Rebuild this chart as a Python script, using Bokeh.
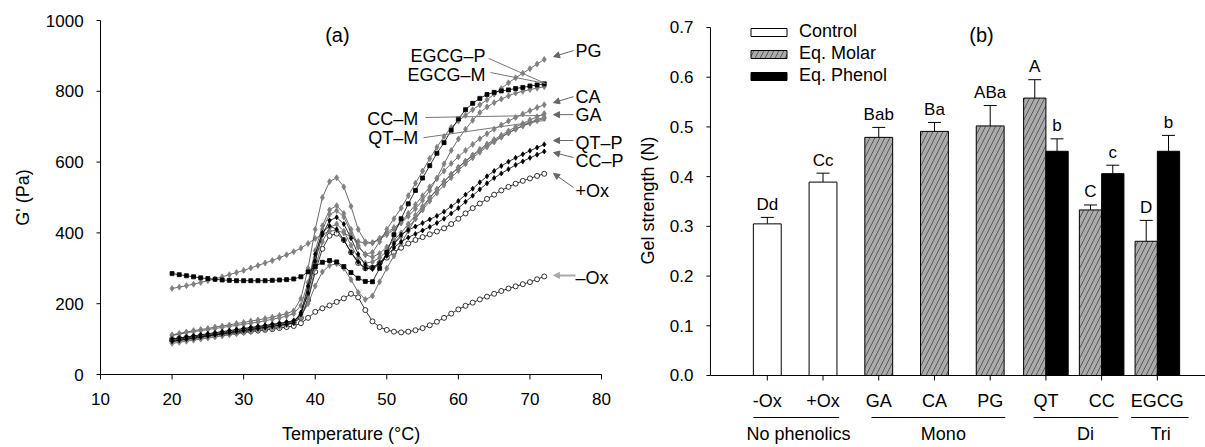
import math
from bokeh.plotting import figure
from bokeh.layouts import row
from bokeh.models import (Range1d, Label, Arrow, NormalHead, Whisker, TeeHead,
                          ColumnDataSource, Legend, LegendItem)
from bokeh.core.properties import value
from bokeh.embed import file_html
from bokeh.resources import INLINE

FONT = "Liberation Sans"

# ---------------- Panel (a) data: G' (Pa) vs temperature ----------------
temperature = list(range(20, 73))
minus_ox = [100, 102, 104, 106, 108, 110, 112, 114, 116, 118,
            120, 122, 124, 126, 128, 131, 134, 137, 145, 160,
            177, 187, 195, 205, 215, 228, 218, 182, 150, 134,
            126, 121, 119, 121, 125, 131, 139, 149, 160, 172,
            184, 194, 203, 212, 220, 228, 236, 243, 249, 255,
            261, 269, 277]
plus_ox = [96, 99, 102, 105, 108, 111, 114, 117, 120, 123,
           126, 129, 132, 135, 138, 141, 144, 147, 160, 210,
           290, 355, 392, 398, 380, 345, 315, 300, 302, 315,
           330, 345, 358, 370, 380, 388, 396, 404, 413, 425,
           440, 455, 470, 483, 496, 508, 520, 530, 539, 547,
           554, 561, 567]
ga = [110, 114, 118, 121, 124, 127, 130, 133, 136, 139,
      142, 145, 148, 152, 156, 160, 165, 172, 195, 260,
      350, 420, 465, 477, 455, 410, 365, 338, 332, 342,
      360, 380, 400, 425, 450, 475, 500, 523, 545, 565,
      585, 603, 620, 636, 651, 664, 676, 688, 699, 709,
      719, 728, 737]
ca = [112, 116, 120, 124, 127, 130, 134, 137, 140, 144,
      147, 151, 154, 158, 162, 167, 172, 180, 215, 300,
      410, 500, 545, 556, 530, 475, 410, 375, 372, 385,
      400, 415, 430, 455, 480, 505, 530, 553, 575, 596,
      615, 633, 650, 666, 680, 693, 705, 716, 726, 736,
      745, 754, 762]
pg = [92, 95, 98, 101, 104, 107, 110, 113, 116, 119,
      122, 125, 128, 131, 135, 139, 144, 150, 170, 240,
      330, 410, 452, 463, 445, 400, 360, 340, 345, 375,
      410, 440, 470, 505, 540, 575, 610, 642, 672, 698,
      716, 732, 748, 762, 776, 792, 808, 824, 838, 851,
      864, 877, 890]
qt_m = [98, 101, 104, 107, 110, 113, 116, 119, 122, 125,
        128, 131, 134, 137, 140, 143, 147, 152, 165, 200,
        250, 290, 308, 313, 300, 268, 232, 212, 222, 262,
        300, 335, 370, 405, 440, 470, 498, 522, 545, 566,
        585, 602, 618, 633, 647, 660, 672, 683, 693, 702,
        710, 717, 723]
cc_m = [88, 91, 94, 97, 100, 103, 106, 109, 112, 115,
        118, 121, 124, 127, 131, 135, 140, 146, 162, 215,
        300, 375, 415, 425, 405, 365, 330, 315, 318, 330,
        348, 368, 390, 415, 440, 465, 490, 513, 535, 556,
        576, 595, 612, 628, 643, 657, 670, 682, 693, 703,
        712, 720, 727]
qt_p = [100, 103, 106, 109, 112, 115, 118, 121, 124, 127,
        130, 133, 136, 139, 142, 145, 148, 152, 170, 230,
        320, 395, 435, 444, 425, 385, 340, 310, 302, 315,
        340, 370, 395, 408, 418, 428, 438, 448, 460, 475,
        490, 508, 525, 543, 560, 575, 589, 601, 612, 622,
        632, 641, 650]
cc_p = [94, 97, 100, 103, 106, 109, 112, 115, 118, 121,
        124, 127, 130, 133, 136, 139, 142, 146, 175, 250,
        340, 400, 420, 410, 380, 345, 318, 300, 298, 312,
        335, 358, 375, 387, 397, 407, 417, 428, 440, 455,
        470, 488, 505, 523, 540, 555, 568, 580, 592, 602,
        612, 621, 630]
egcg_m = [243, 247, 251, 255, 260, 265, 270, 276, 282, 288,
          294, 301, 308, 315, 322, 330, 338, 347, 357, 370,
          384, 396, 405, 407, 400, 388, 376, 370, 372, 382,
          395, 410, 428, 447, 468, 492, 520, 555, 595, 633,
          665, 693, 718, 740, 756, 768, 778, 787, 795, 800,
          805, 809, 813]
egcg_p = [285, 282, 279, 276, 273, 271, 269, 267, 266, 265,
          265, 265, 265, 265, 266, 267, 268, 270, 276, 290,
          305, 317, 322, 318, 305, 288, 272, 263, 262, 300,
          345, 395, 440, 482, 520, 555, 590, 625, 655, 690,
          722, 748, 766, 780, 791, 797, 801, 804, 808, 811,
          815, 818, 821]
x_ticks_a = [10, 20, 30, 40, 50, 60, 70, 80]
y_ticks_a = [0, 200, 400, 600, 800, 1000]

# ---------------- Panel (b) data: gel strength (N) ----------------
categories = ["-Ox", "+Ox", "GA", "CA", "PG", "QT", "CC", "EGCG"]
control_cats = ["-Ox", "+Ox"]
control_vals = [0.305, 0.389]
control_err = [0.013, 0.018]
control_letters = ["Dd", "Cc"]
molar_cats = ["GA", "CA", "PG", "QT", "CC", "EGCG"]
molar_vals = [0.479, 0.491, 0.502, 0.558, 0.333, 0.270]
molar_err = [0.020, 0.018, 0.041, 0.037, 0.010, 0.042]
molar_letters = ["Bab", "Ba", "ABa", "A", "C", "D"]
phenol_cats = ["QT", "CC", "EGCG"]
phenol_vals = [0.451, 0.406, 0.451]
phenol_err = [0.025, 0.017, 0.032]
phenol_letters = ["b", "c", "b"]
groups = ["No phenolics", "Mono", "Di", "Tri"]
y_ticks_b = [0.0, 0.1, 0.2, 0.3, 0.4, 0.5, 0.6, 0.7]

# ---------------- layout constants ----------------
# panel (a): 7.157 px per degree, 0.354 px per Pa; axis origin (10, 0)
A_X0, A_Y0 = 10, 0
A_YTICK_LEN = 0.56        # degrees
A_YLABEL_X = 7.65
A_XTICK_LEN = 14          # Pa
A_XLABEL_Y = -70.6
A_XTITLE_Y = -168.1
A_YTITLE_X = -0.76
# panel (b): 55.72 px per category, 497.14 px per N
B_X0 = -0.02
B_YTICK_LEN = 0.072
B_YLABEL_X = -0.3245
B_YTITLE_X = -1.132
B_XTICK_LEN = 0.0100
B_XLABEL_Y = -0.0513
B_GROUP_LINE_Y = -0.0845
B_GROUP_TEXT_Y = -0.1177
group_spans = [(0.75, 2.29), (2.87, 5.27), (5.78, 7.30), (7.53, 8.56)]
group_centers = [1.56, 4.16, 6.71, 8.06]

GRAY = "#808080"
TXT = dict(text_font=value(FONT), text_color="black")


def bare_figure(width, xr, yr):
    p = figure(width=width, height=447, x_range=Range1d(*xr), y_range=Range1d(*yr),
               output_backend="svg", toolbar_location=None,
               x_axis_location=None, y_axis_location=None)
    p.min_border_left = p.min_border_right = p.min_border_top = p.min_border_bottom = 0
    p.outline_line_color = None
    p.grid.visible = False
    return p


# ================= Panel (a) =================
p1 = bare_figure(630, (-3.972, 84.05), (-206.2, 1056.5))

# axes
p1.segment(x0=[A_X0], y0=[y_ticks_a[0]], x1=[A_X0], y1=[y_ticks_a[-1]], line_color="black", line_width=1)
p1.segment(x0=[A_X0] * len(y_ticks_a), y0=y_ticks_a, x1=[A_X0 - A_YTICK_LEN] * len(y_ticks_a),
           y1=y_ticks_a, line_color="black", line_width=1)
p1.text(x=[A_YLABEL_X] * len(y_ticks_a), y=y_ticks_a, text=[str(t) for t in y_ticks_a],
        text_align="right", text_baseline="middle", text_font_size="17px", **TXT)
p1.segment(x0=[x_ticks_a[0]], y0=[A_Y0], x1=[x_ticks_a[-1]], y1=[A_Y0], line_color="black", line_width=1)
p1.segment(x0=x_ticks_a, y0=[A_Y0] * len(x_ticks_a), x1=x_ticks_a,
           y1=[A_Y0 - A_XTICK_LEN] * len(x_ticks_a), line_color="black", line_width=1)
p1.text(x=x_ticks_a, y=[A_XLABEL_Y] * len(x_ticks_a), text=[str(t) for t in x_ticks_a],
        text_align="center", text_baseline="middle", text_font_size="17px", **TXT)
p1.add_layout(Label(x=45, y=A_XTITLE_Y, text="Temperature (°C)", text_font=FONT,
                    text_font_size="18px", text_align="center", text_baseline="middle",
                    text_color="black"))
p1.add_layout(Label(x=A_YTITLE_X, y=500, text="G' (Pa)", text_font=FONT, angle=math.pi / 2,
                    text_font_size="18px", text_align="center", text_baseline="middle",
                    text_color="black"))

series = [
    (minus_ox, "circle", "white", "black", "black", 5),
    (plus_ox, "circle", "white", "black", "black", 5),
    (egcg_m, "diamond", GRAY, GRAY, "#444444", 6),
    (qt_m, "diamond", GRAY, GRAY, "#444444", 6),
    (cc_m, "diamond", GRAY, GRAY, "#444444", 6),
    (ga, "diamond", GRAY, GRAY, "#444444", 6),
    (ca, "diamond", GRAY, GRAY, "#444444", 6),
    (pg, "diamond", GRAY, GRAY, "#444444", 6),
    (qt_p, "diamond", "black", "black", "black", 5),
    (cc_p, "diamond", "black", "black", "black", 5),
    (egcg_p, "square", "black", "black", "black", 4),
]
for ys, mk, fc, mlc, lc, sz in series:
    p1.line(temperature, ys, line_color=lc, line_width=0.8)
    p1.scatter(temperature, ys, marker=mk, size=sz, fill_color=fc, line_color=mlc, line_width=0.8)

ARROW_C = "#666666"
right_labels = [("PG", 915), ("CA", 785), ("GA", 732), ("QT–P", 653),
                ("CC–P", 602), ("+Ox", 517), ("–Ox", 274)]
for txt, yy in right_labels:
    p1.add_layout(Label(x=76.37, y=yy, text=txt, text_font=FONT, text_font_size="18px",
                        text_baseline="middle", text_align="left", text_color="black"))
left_labels = [("EGCG–P", 63.8, 901), ("EGCG–M", 63.8, 847), ("CC–M", 54.4, 723), ("QT–M", 54.4, 669)]
for txt, xx, yy in left_labels:
    p1.add_layout(Label(x=xx, y=yy, text=txt, text_font=FONT, text_font_size="18px",
                        text_baseline="middle", text_align="right", text_color="black"))

arrows = [((76.09, 915), (73.30, 898)), ((76.09, 785), (73.30, 768)),
          ((76.09, 734), (73.30, 734)), ((76.09, 661), (73.30, 661)),
          ((76.09, 613), (73.30, 627)), ((76.09, 528), (73.30, 568))]
for (xs, ys_), (xe, ye) in arrows:
    p1.add_layout(Arrow(x_start=xs, y_start=ys_, x_end=xe, y_end=ye, line_color=ARROW_C,
                        line_width=1, end=NormalHead(size=6, fill_color=ARROW_C, line_color=ARROW_C)))
p1.add_layout(Arrow(x_start=76.37, y_start=280, x_end=73.30, y_end=280, line_color="#aaaaaa",
                    line_width=2, end=NormalHead(size=6, fill_color="#aaaaaa", line_color="#aaaaaa")))
plain_lines = [((64.21, 893), (72.18, 822)), ((64.49, 853), (72.18, 822)),
               ((55.41, 726), (72.18, 732)), ((55.13, 669), (72.18, 718))]
for (xs, ys_), (xe, ye) in plain_lines:
    p1.add_layout(Arrow(x_start=xs, y_start=ys_, x_end=xe, y_end=ye, line_color="#777777",
                        line_width=1, end=None))

p1.add_layout(Label(x=43.1, y=958, text="(a)", text_font=FONT, text_font_size="20px",
                    text_baseline="middle", text_align="center", text_color="black"))

# ================= Panel (b) =================
p2 = bare_figure(575, (-1.455, 8.864), (-0.14483, 0.7543))

# y axis
p2.segment(x0=[B_X0], y0=[y_ticks_b[0]], x1=[B_X0], y1=[y_ticks_b[-1]], line_color="black", line_width=1)
p2.segment(x0=[B_X0] * len(y_ticks_b), y0=y_ticks_b, x1=[B_X0 - B_YTICK_LEN] * len(y_ticks_b),
           y1=y_ticks_b, line_color="black", line_width=1)
p2.text(x=[B_YLABEL_X] * len(y_ticks_b), y=y_ticks_b, text=[f"{t:.1f}" for t in y_ticks_b],
        text_align="right", text_baseline="middle", text_font_size="17px", **TXT)
p2.add_layout(Label(x=B_YTITLE_X, y=0.352, text="Gel strength (N)", text_font=FONT,
                    angle=math.pi / 2, text_font_size="18px", text_align="center",
                    text_baseline="middle", text_color="black"))

pos = {c: i + 1 for i, c in enumerate(categories)}

src_c = ColumnDataSource(dict(
    x=[pos[c] for c in control_cats], top=control_vals,
    upper=[v + e for v, e in zip(control_vals, control_err)],
    width=[0.5] * len(control_cats), lab=control_letters))
src_m = ColumnDataSource(dict(
    x=[pos[c] - 0.2 if c in phenol_cats else pos[c] for c in molar_cats], top=molar_vals,
    upper=[v + e for v, e in zip(molar_vals, molar_err)],
    width=[0.4 if c in phenol_cats else 0.5 for c in molar_cats], lab=molar_letters))
src_p = ColumnDataSource(dict(
    x=[pos[c] + 0.2 for c in phenol_cats], top=phenol_vals,
    upper=[v + e for v, e in zip(phenol_vals, phenol_err)],
    width=[0.4] * len(phenol_cats), lab=phenol_letters))

r_c = p2.vbar(x="x", top="top", width="width", source=src_c, fill_color="white",
              line_color="black", line_width=1)
r_m = p2.vbar(x="x", top="top", width="width", source=src_m, fill_color="#ababab",
              line_color="black", line_width=1, hatch_pattern="/", hatch_color="#333333",
              hatch_scale=10, hatch_weight=0.7)
r_p = p2.vbar(x="x", top="top", width="width", source=src_p, fill_color="black",
              line_color="black", line_width=1)

for src in (src_c, src_m, src_p):
    p2.add_layout(Whisker(source=src, base="x", lower="top", upper="upper", dimension="height",
                          line_color="black", line_width=1, lower_head=None,
                          upper_head=TeeHead(size=13, line_color="black", line_width=1)))
    p2.text(x="x", y="upper", text="lab", source=src, text_align="center",
            text_baseline="middle", y_offset=-13, text_font_size="17px", **TXT)

# x axis at y = 0
x_right = p2.x_range.end
p2.segment(x0=[B_X0], y0=[0], x1=[x_right], y1=[0], line_color="black", line_width=1)
tick_x = [pos[c] for c in categories]
p2.segment(x0=tick_x, y0=[0] * len(tick_x), x1=tick_x, y1=[-B_XTICK_LEN] * len(tick_x),
           line_color="black", line_width=1)
p2.text(x=tick_x, y=[B_XLABEL_Y] * len(tick_x), text=categories, text_align="center",
        text_baseline="middle", text_font_size="18px", **TXT)
p2.segment(x0=[s[0] for s in group_spans], y0=[B_GROUP_LINE_Y] * len(groups),
           x1=[s[1] for s in group_spans], y1=[B_GROUP_LINE_Y] * len(groups),
           line_color="black", line_width=1)
p2.text(x=group_centers, y=[B_GROUP_TEXT_Y] * len(groups), text=groups, text_align="center",
        text_baseline="middle", text_font_size="18px", **TXT)

legend = Legend(items=[LegendItem(label="Control", renderers=[r_c]),
                       LegendItem(label="Eq. Molar", renderers=[r_m]),
                       LegendItem(label="Eq. Phenol", renderers=[r_p])],
                location=(116, 361), glyph_width=45, glyph_height=10, label_standoff=8,
                spacing=1, padding=0, margin=0, border_line_color=None,
                background_fill_alpha=0, label_text_font=FONT, label_text_font_size="18px",
                label_height=21, label_text_color="black")
p2.add_layout(legend)

p2.add_layout(Label(x=4.844, y=0.684, text="(b)", text_font=FONT, text_font_size="20px",
                    text_baseline="middle", text_align="center", text_color="black"))

layout = row(p1, p2)
open("out.html", "w").write(file_html(layout, INLINE))
